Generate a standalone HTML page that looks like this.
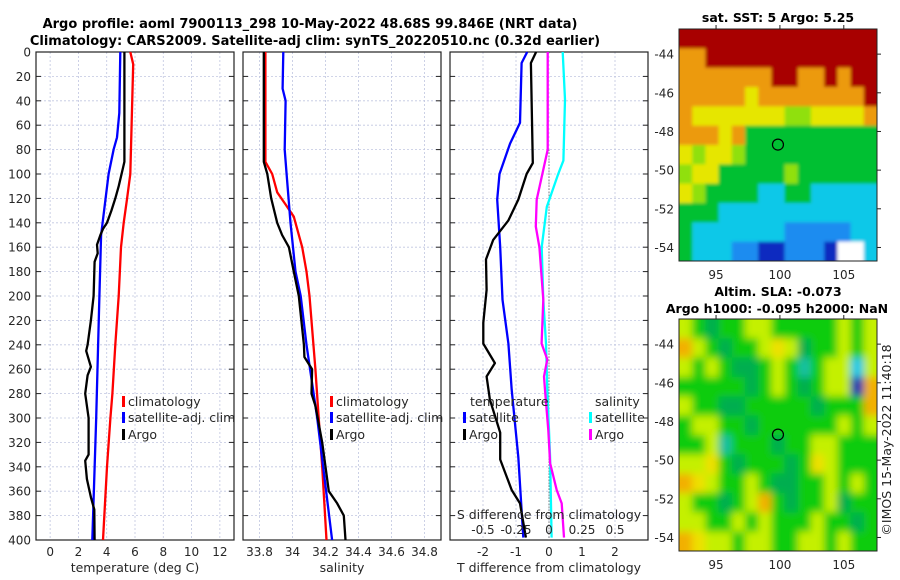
<!DOCTYPE html>
<html><head><meta charset="utf-8"><style>
html,body{margin:0;padding:0;background:#fff}
svg{display:block;font-family:"DejaVu Sans","Liberation Sans",sans-serif}
</style></head><body>
<svg id="fig" width="900" height="580" viewBox="0 0 900 580" xmlns="http://www.w3.org/2000/svg">
<text x="310" y="28" text-anchor="middle" font-size="13" font-weight="bold">Argo profile: aoml 7900113_298 10-May-2022 48.68S 99.846E (NRT data)</text>
<text x="315" y="45" text-anchor="middle" font-size="13" font-weight="bold">Climatology: CARS2009. Satellite-adj clim: synTS_20220510.nc (0.32d earlier)</text>
<text x="778" y="22" text-anchor="middle" font-size="12.5" font-weight="bold">sat. SST: 5 Argo: 5.25</text>
<text x="778" y="296" text-anchor="middle" font-size="12.5" font-weight="bold">Altim. SLA: -0.073</text>
<text x="777" y="313" text-anchor="middle" font-size="12.5" font-weight="bold">Argo h1000: -0.095 h2000: NaN</text>
<text transform="translate(891,440) rotate(-90)" text-anchor="middle" font-size="12.5" fill="#222">©IMOS 15-May-2022 11:40:18</text>
<g id="layer"></g>
</svg>
<script>
// ---- data ----
const depthTick=[0,20,40,60,80,100,120,140,160,180,200,220,240,260,280,300,320,340,360,380,400];
const tempTicks=[0,2,4,6,8,10,12];
const salTicks=[33.8,34,34.2,34.4,34.6,34.8];
const salTickLabels=["33.8","34","34.2","34.4","34.6","34.8"];
const tdTicks=[-2,-1,0,1,2];
const sdTickLabels=["-0.5","-0.25","0","0.25","0.5"];
const sdTicks=[-0.5,-0.25,0,0.25,0.5];

const tClimD=[0,10,100,120,140,160,200,240,280,300,340,400];
const tClimV=[5.67,5.87,5.67,5.44,5.2,5.01,4.85,4.61,4.4,4.26,4.02,3.74];
const tSatD=[0,50,70,80,100,150,200,300,400];
const tSatV=[4.96,4.89,4.73,4.49,4.13,3.6,3.48,3.26,2.98];
const tArgoD=[0,90,95,110,120,130,140,145,150,158,165,172,200,220,240,245,258,265,280,300,330,335,350,365,375,400];
const tArgoV=[5.25,5.25,5.15,4.85,4.61,4.33,4.02,3.74,3.55,3.31,3.36,3.14,3.07,2.88,2.65,2.55,2.88,2.65,2.48,2.72,2.72,2.48,2.6,2.88,3.12,3.14];

const sClimD=[0,90,100,115,125,135,160,180,200,260,300,340,400];
const sClimV=[33.836,33.836,33.877,33.907,33.958,34.008,34.059,34.085,34.103,34.139,34.159,34.18,34.206];
const sSatD=[0,30,40,80,100,140,180,200,240,300,400];
const sSatV=[33.944,33.94,33.958,33.953,33.964,33.988,34.018,34.05,34.085,34.15,34.24];
const sArgoD=[0,90,100,120,140,150,160,180,200,240,250,260,280,290,320,340,360,370,380,400];
const sArgoV=[33.826,33.826,33.847,33.871,33.907,33.937,33.978,34.008,34.038,34.069,34.072,34.119,34.115,34.139,34.18,34.2,34.22,34.271,34.311,34.321];

const dtSatD=[0,9,58,75,100,121,160,203,239,277,332,398];
const dtSatV=[-0.66,-0.83,-0.88,-1.18,-1.5,-1.57,-1.48,-1.41,-1.23,-1.13,-0.93,-0.78];
const dtArgoD=[0,9,91,100,121,138,154,170,195,222,239,255,266,285,312,334,359,370,398];
const dtArgoV=[-0.39,-0.55,-0.49,-0.68,-0.93,-1.23,-1.69,-1.91,-1.89,-1.99,-1.99,-1.64,-1.89,-1.79,-1.48,-1.48,-1.13,-0.88,-0.7];
const dsArgoD=[0,80,121,143,160,203,239,252,266,277,310,337,359,370,398];
const dsArgoV=[-0.01,-0.01,-0.093,-0.1,-0.073,-0.043,-0.056,-0.013,-0.038,-0.03,-0.005,0.008,0.058,0.096,0.114];
const dsSatD=[0,39,89,100,127,160,203,239,277,332,398];
const dsSatV=[0.104,0.121,0.109,0.07,-0.017,-0.055,-0.043,-0.023,-0.013,0.008,0.02];

const mapLonTicks=[95,100,105];
const mapLatTicks=[-44,-46,-48,-50,-52,-54];
const argoLon=99.846, argoLat=-48.68;
const sstGrid=[
"RRRRRRRRRRRRRRR",
"OORRRRRRRRRRRRR",
"OOOOOOORROORORR",
"OOOOOYOOOOOOOOR",
"OYYYYYYYLLYYYYO",
"OOOYOGGGGGGGGGG",
"YLYYLGGGGGGGGGG",
"LYYGGGGGLGGGGGG",
"YLGGGGCCGGCCCCC",
"GGGCCCCCCCCCCCC",
"GCCCCCCCBBBBBCC",
"GCCCBBDDBBBDWWC"];
const slaGrid=[
"LGDGGLLGGGGGLGL",
"OLGDGGLYLDGGLGL",
"LGLGDDGLGTGLLCL",
"GGGGGDGLGDGLLBO",
"LGGDDGGGGGDGGGO",
"GLLGGDGGGGGGLGL",
"GGLTGGGDGGLLGGG",
"LLYGDGGGDGYLGGG",
"OYLGGLGDDGGLGLG",
"LGGDGLOGDGGLDGG",
"LLGGLGLGGGLGGDG",
"OYLLGLLGGLLGLGG"];
const sstColors={R:"#a80000",O:"#ec9a10",Y:"#e6e600",L:"#90e010",G:"#00c030",C:"#10c8e8",B:"#1a8cf0",D:"#0a2cc0",W:"#ffffff"};
const slaColors={L:"#c4f000",Y:"#eee000",O:"#f2b000",G:"#10cc10",D:"#00ae50",T:"#14c0a0",C:"#00c8e8",B:"#0030b0"};

// ---- drawing ----
const NS="http://www.w3.org/2000/svg";
const layer=document.getElementById('layer');
function el(tag,attrs,parent){const e=document.createElementNS(NS,tag);for(const k in attrs)e.setAttribute(k,attrs[k]);(parent||layer).appendChild(e);return e;}
const Y0=52,Y1=540;
const yD=d=>Y0+(d/400)*(Y1-Y0);
function lin(d0,d1,r0,r1){return v=>r0+(v-d0)/(d1-d0)*(r1-r0);}

const panels=[
 {x0:36,x1:234,sc:lin(-1,13,36,234),ticks:tempTicks,labels:tempTicks.map(String),xlabel:"temperature (deg C)",name:"temperature-panel"},
 {x0:243,x1:441,sc:lin(33.7,34.9,243,441),ticks:salTicks,labels:salTickLabels,xlabel:"salinity",name:"salinity-panel"},
 {x0:450,x1:648,sc:lin(-3,3,450,648),ticks:tdTicks,labels:tdTicks.map(String),xlabel:"T difference from climatology",name:"difference-panel"}
];
panels.forEach((p,pi)=>{
  const g=el('g',{});
  
  
  depthTick.forEach(d=>{
    const l=el('line',{x1:p.x0,x2:p.x1,y1:yD(d),y2:yD(d),stroke:"#c0c6e0","stroke-width":0.8,"stroke-dasharray":"2,2"},g);
    
    
    el('line',{x1:p.x0,x2:p.x0+5,y1:yD(d),y2:yD(d),stroke:"#222","stroke-width":1},g);
    el('line',{x1:p.x1-5,x2:p.x1,y1:yD(d),y2:yD(d),stroke:"#222","stroke-width":1},g);
  });
  p.ticks.forEach((t,i)=>{
    const x=p.sc(t);
    const l=el('line',{x1:x,x2:x,y1:Y0,y2:Y1,stroke:"#c0c6e0","stroke-width":0.8,"stroke-dasharray":"2,2"},g);
    
    
    const tx=el('text',{x:x,y:556,"text-anchor":"middle","font-size":12,fill:"#262626"},g);
    tx.textContent=p.labels[i];
    
    
  });
  const xl=el('text',{x:(p.x0+p.x1)/2,y:572,"text-anchor":"middle","font-size":12.5,fill:"#262626"},g);
  xl.textContent=p.xlabel;
  
  
  const fr=el('rect',{x:p.x0,y:Y0,width:p.x1-p.x0,height:Y1-Y0,fill:"none",stroke:"#222","stroke-width":1.2},g);
  
  
});
depthTick.forEach(d=>{
  const t=el('text',{x:31,y:yD(d)+4.5,"text-anchor":"end","font-size":12,fill:"#262626"});
  t.textContent=String(d);
  
  
});
el('line',{x1:panels[2].sc(0),x2:panels[2].sc(0),y1:yD(80),y2:Y1,stroke:"#444","stroke-width":1,"stroke-dasharray":"1,2"});

function profile(sc,ds,vs,color,name){
  const pts=ds.map((d,i)=>sc(vs[i]).toFixed(1)+","+yD(d).toFixed(1)).join(" ");
  const pl=el('polyline',{points:pts,fill:"none",stroke:color,"stroke-width":2.3,"stroke-linejoin":"round"});
  
  
}
const sdSc=v=>panels[2].sc(v*4);
profile(panels[0].sc,tClimD,tClimV,"#ff0000","temp-climatology-line");
profile(panels[0].sc,tSatD,tSatV,"#0000ff","temp-satellite-line");
profile(panels[0].sc,tArgoD,tArgoV,"#000000","temp-argo-line");
profile(panels[1].sc,sClimD,sClimV,"#ff0000","sal-climatology-line");
profile(panels[1].sc,sSatD,sSatV,"#0000ff","sal-satellite-line");
profile(panels[1].sc,sArgoD,sArgoV,"#000000","sal-argo-line");
profile(sdSc,dsSatD,dsSatV,"#00ffff","sdiff-satellite-line");
profile(sdSc,dsArgoD,dsArgoV,"#ff00ff","sdiff-argo-line");
profile(panels[2].sc,dtSatD,dtSatV,"#0000ff","tdiff-satellite-line");
profile(panels[2].sc,dtArgoD,dtArgoV,"#000000","tdiff-argo-line");

function legendItem(x,y,color,label,name){
  const g=el('g',{});
  
  
  if(color) el('rect',{x:x,y:y-10,width:3,height:11,fill:color},g);
  const t=el('text',{x:x+6,y:y,"font-size":12.5,fill:"#262626"},g);
  t.textContent=label;
}
[[122,"temp"],[330,"sal"]].forEach(([x,n])=>{
  legendItem(x,406,"#ff0000","climatology",n+"-legend-climatology");
  legendItem(x,422,"#0000ff","satellite-adj. clim",n+"-legend-satellite");
  legendItem(x,439,"#000000","Argo",n+"-legend-argo");
});
legendItem(464,406,null,"temperature","tdiff-legend-title");
legendItem(463,422,"#0000ff","satellite","tdiff-legend-satellite");
legendItem(463,439,"#000000","Argo","tdiff-legend-argo");
legendItem(589,406,null,"salinity","sdiff-legend-title");
legendItem(589,422,"#00ffff","satellite","sdiff-legend-satellite");
legendItem(589,439,"#ff00ff","Argo","sdiff-legend-argo");
const st=el('text',{x:549,y:519,"text-anchor":"middle","font-size":12.5,fill:"#262626"});
st.textContent="S difference from climatology";


sdTicks.forEach((v,i)=>{
  const t=el('text',{x:sdSc(v),y:534,"text-anchor":"middle","font-size":12,fill:"#262626"});
  t.textContent=sdTickLabels[i];
  
  
});

// ---- maps ----
function drawMap(top,grid,colors,name,blur){
  const mx0=679,mx1=877,my0=top,my1=top+232;
  const lonSc=lin(92.1,107.6,mx0,mx1), latSc=lin(-42.7,-54.7,my0,my1);
  const g=el('g',{});
  
  
  const clipId=name+"-clip";
  const cp=el('clipPath',{id:clipId},g);
  el('rect',{x:mx0,y:my0,width:mx1-mx0,height:my1-my0},cp);
  if(blur){const f=el('filter',{id:name+"-blur",x:"-10%",y:"-10%",width:"120%",height:"120%"},g);el('feGaussianBlur',{stdDeviation:blur},f);}
  const cells=el('g',{"clip-path":"url(#"+clipId+")"},g);
  const rows=grid.length, cols=grid[0].length;
  const cw=(mx1-mx0)/cols, ch=(my1-my0)/rows;
  // background so blurred edges don't fade to white
  el('rect',{x:mx0,y:my0,width:mx1-mx0,height:my1-my0,fill:colors[grid[rows>>1][cols>>1]]},cells);
  const inner=el('g',blur?{filter:"url(#"+name+"-blur)"}:{},cells);
  grid.forEach((row,r)=>{
    for(let c=0;c<cols;c++){
      const ex=(c===0?-cw:0), ew=(c===0||c===cols-1?cw:0);
      const ey=(r===0?-ch:0), eh=(r===0||r===rows-1?ch:0);
      const rc=el('rect',{x:mx0+c*cw+(blur?ex:0),y:my0+r*ch+(blur?ey:0),width:cw+0.5+(blur?ew:0),height:ch+0.5+(blur?eh:0),fill:colors[row[c]]},inner);
      
      
    }
  });
  el('rect',{x:mx0,y:my0,width:mx1-mx0,height:my1-my0,fill:"none",stroke:"#222","stroke-width":1},g);
  const mk=el('circle',{cx:lonSc(argoLon),cy:latSc(argoLat),r:5.5,fill:"none",stroke:"#000","stroke-width":1.2},g);
  
  
  mapLatTicks.forEach(v=>{
    const y=latSc(v);
    el('line',{x1:mx1,x2:mx1+4,y1:y,y2:y,stroke:"#222"},g);
    const t=el('text',{x:674,y:y+4.5,"text-anchor":"end","font-size":12,fill:"#262626"},g);
    t.textContent=String(v);
    
    
  });
  mapLonTicks.forEach(v=>{
    const x=lonSc(v);
    el('line',{x1:x,x2:x,y1:my0-4,y2:my0,stroke:"#222"},g);
    const t=el('text',{x:x,y:my1+18,"text-anchor":"middle","font-size":12,fill:"#262626"},g);
    t.textContent=String(v);
    
    
  });
}
drawMap(29,sstGrid,sstColors,"sst-map",1.5);
drawMap(319,slaGrid,slaColors,"sla-map",4);
</script>
</body></html>
